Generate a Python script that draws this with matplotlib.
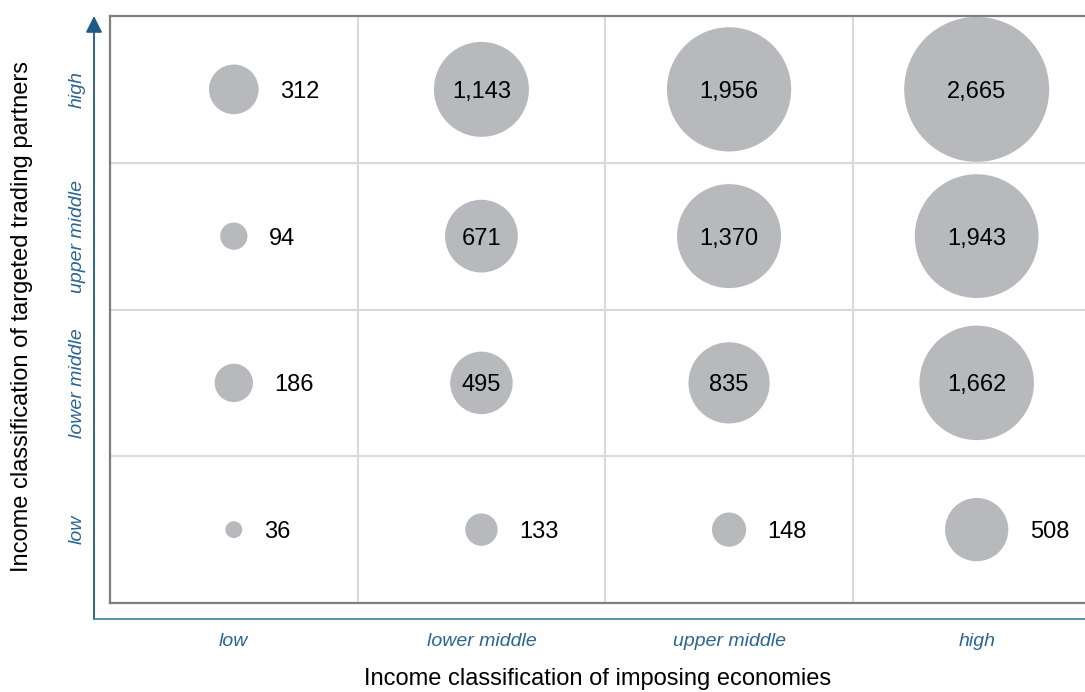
import numpy as np
import matplotlib
matplotlib.use("Agg")
import matplotlib.pyplot as plt

plt.rcParams['font.family'] = ['Liberation Sans', 'DejaVu Sans']

# income groups (bottom -> top for the y axis, left -> right for x)
imposing = ['low', 'lower middle', 'upper middle', 'high']
targeted = ['low', 'lower middle', 'upper middle', 'high']

# counts[row = targeted][col = imposing]
counts = np.array([
    [36, 133, 148, 508],
    [186, 495, 835, 1662],
    [94, 671, 1370, 1943],
    [312, 1143, 1956, 2665],
])

# labels drawn to the right of the bubble instead of inside
label_outside = np.array([
    [True, True, True, True],
    [True, False, False, False],
    [True, False, False, False],
    [True, False, False, False],
])

bubble_col = '#b8b9bc'
blue = '#2b6590'
line_blue = '#4a83ad'

fig = plt.figure(figsize=(10.85, 6.92), dpi=100)
W, H = 1085, 692
ax = fig.add_axes([110 / W, 1 - 603 / H, 990.5 / W, 587 / H])
ax.set_xlim(0, 4)
ax.set_ylim(0, 4)

# grid lines
for k in [1, 2, 3]:
    ax.axvline(k, color='#d9d9d9', lw=1.5, zorder=0)
    ax.axhline(k, color='#d9d9d9', lw=1.5, zorder=0)

for sp in ['left', 'bottom', 'top']:
    ax.spines[sp].set_color('#7f7f7f')
    ax.spines[sp].set_linewidth(1.6)
ax.spines['right'].set_visible(False)
ax.set_xticks([])
ax.set_yticks([])

# bubbles: area proportional to count
scale = 10900 / counts.max()
for r in range(4):
    for c in range(4):
        v = counts[r, c]
        s = v * scale
        ax.scatter(c + 0.5, r + 0.5, s=s, color=bubble_col, edgecolors='none', zorder=2)
        txt = f'{v:,}'
        if label_outside[r, c]:
            ax.annotate(txt, (c + 0.5, r + 0.5), xytext=(np.sqrt(s) / 2 + 15.5, 0),
                        textcoords='offset points', ha='left', va='center_baseline',
                        fontsize=17, color='black', zorder=3)
        else:
            ax.text(c + 0.5, r + 0.5, txt, ha='center', va='center_baseline',
                    fontsize=17, color='black', zorder=3)

# category labels
for i, lab in enumerate(imposing):
    ax.text(i + 0.5, -0.26, lab, ha='center', va='center', fontsize=14,
            style='italic', color=blue)
for i, lab in enumerate(targeted):
    ax.text(-0.133, i + 0.5, lab, ha='center', va='center', fontsize=14,
            style='italic', color=blue, rotation=90)

# blue axis arrows
fig.add_artist(plt.Line2D([94 / W, 1.0], [1 - 619 / H, 1 - 619 / H],
                          color=line_blue, lw=1.3, transform=fig.transFigure))
ax.annotate('', xy=(94 / W, 1 - 16 / H), xytext=(94 / W, 1 - 619 / H),
            xycoords='figure fraction', textcoords='figure fraction',
            arrowprops=dict(arrowstyle='-|>,head_length=1.0,head_width=0.5',
                            color=line_blue, lw=1.3, shrinkA=0, shrinkB=0,
                            fc='#1f5a85', ec='#1f5a85'))

fig.text(22 / W, 1 - 316 / H, 'Income classification of targeted trading partners',
         rotation=90, ha='center', va='center', fontsize=17)
fig.text(598 / W, 1 - 679 / H, 'Income classification of imposing economies',
         ha='center', va='center', fontsize=17)

fig.savefig('out.png', dpi=100)
